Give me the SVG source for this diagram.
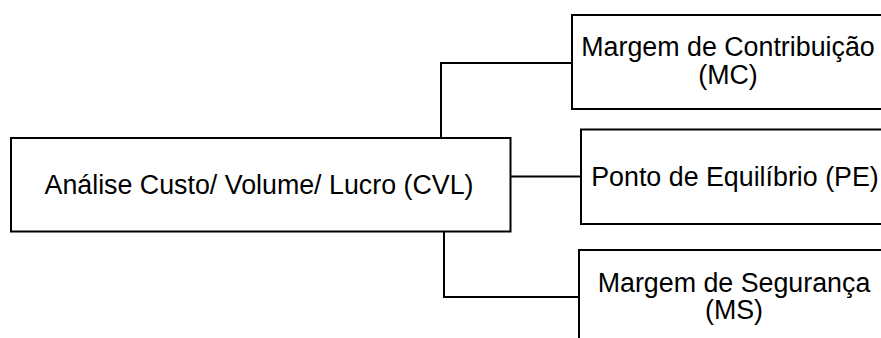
<svg xmlns="http://www.w3.org/2000/svg" width="881" height="338" viewBox="0 0 881 338">
<style>
.box{fill:#fff;stroke:#000;stroke-width:2}
.c{fill:none;stroke:#000;stroke-width:2}
text{font-family:"Liberation Sans",Arial,sans-serif;font-size:26.8px;fill:#000;text-anchor:middle}
</style>
<rect width="881" height="338" fill="#fff"/>
<g id="connectors">
<polyline class="c" points="441,138 441,63 572,63"/>
<line class="c" x1="511" y1="176.5" x2="581" y2="176.5"/>
<polyline class="c" points="444,231 444,297 579,297"/>
</g>
<g id="cvl">
<rect class="box" x="11" y="138" width="499.5" height="93.5"/>
<text x="259" y="194">Análise Custo/ Volume/ Lucro (CVL)</text>
</g>
<g id="mc">
<rect class="box" x="572" y="15" width="314" height="94"/>
<text x="728" y="56">Margem de Contribuição</text>
<text x="728" y="84">(MC)</text>
</g>
<g id="pe">
<rect class="box" x="581" y="129.5" width="310" height="94.5"/>
<text x="735" y="186">Ponto de Equilíbrio (PE)</text>
</g>
<g id="ms">
<rect class="box" x="579" y="250" width="310" height="100"/>
<text x="734" y="291.5">Margem de Segurança</text>
<text x="734" y="318.5">(MS)</text>
</g>
</svg>
